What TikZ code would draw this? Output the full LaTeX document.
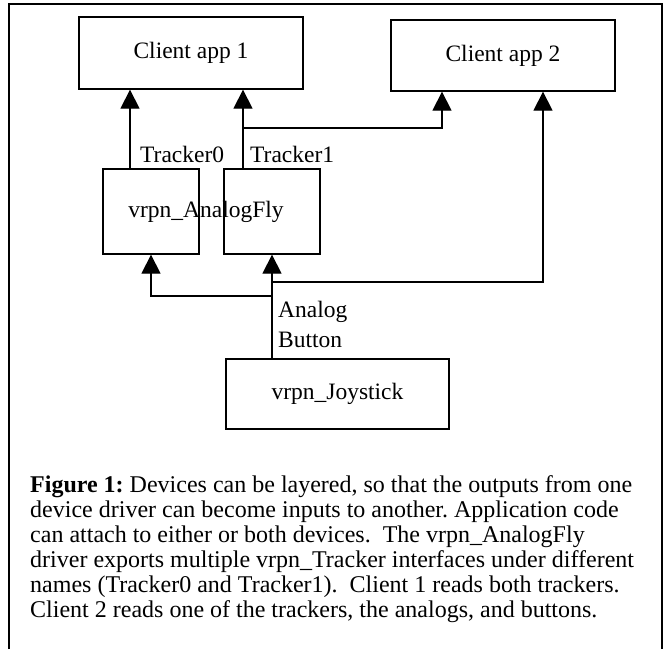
\documentclass[tikz,border=0pt]{standalone}
\usepackage{fontspec}
\setmainfont{Liberation Serif}
\usetikzlibrary{arrows.meta}
\frenchspacing
\begin{document}
\begin{tikzpicture}[x=1pt,y=-1pt,
box/.style={draw,line width=1.3pt,inner sep=0pt},
lbl/.style={font=\fontsize{23.5}{28}\selectfont,inner sep=0pt},
arr/.style={line width=1.3pt,-{Triangle[length=19pt,width=19pt]}}]
\useasboundingbox (0,0) rectangle (665,649);
\draw[line width=1.6pt] (9,649) -- (9,4) -- (662,4) -- (662,649);
\node[box,lbl,minimum width=224pt,minimum height=72pt] (app1) at (191,53) {Client app 1};
\node[box,lbl,minimum width=224pt,minimum height=71pt] (app2) at (503,55.5) {Client app 2};
\node[box,minimum width=96pt,minimum height=85pt] (trk0) at (151,211.5) {};
\node[box,minimum width=96pt,minimum height=85pt] (trk1) at (272,211.5) {};
\node[lbl] (fly) at (206,212) {vrpn\_AnalogFly};
\node[box,lbl,minimum width=223pt,minimum height=70pt] (joy) at (337.5,394) {vrpn\_Joystick};
\draw[arr] ([xshift=-21pt]trk0.north) coordinate (up0) -- (up0 |- app1.south);
\draw[arr] ([xshift=-29pt]trk1.north) coordinate (up1) -- (up1 |- app1.south);
\coordinate (br1) at (243,128);
\draw[arr] (br1) -| ([xshift=-61pt]app2.south);
\draw[arr] (trk1.south |- joy.north) -- (trk1.south);
\coordinate (br2) at (272,296);
\coordinate (br3) at (272,282);
\draw[arr] (br2) -| (trk0.south);
\draw[arr] (br3) -| ([xshift=40pt]app2.south);
\node[lbl,anchor=base west] (t0) at (140,162) {Tracker0};
\node[lbl,anchor=base west] (t1) at (250,162) {Tracker1};
\node[lbl,anchor=base west] (ana) at (278,317) {Analog};
\node[lbl,anchor=base west] (btn) at (278,347) {Button};
\foreach \t [count=\n] in {
{\textbf{Figure 1:} Devices can be layered, so that the outputs from one},
{device driver can become inputs to another. Application code},
{can attach to either or both devices.~ The vrpn\_AnalogFly},
{driver exports multiple vrpn\_Tracker interfaces under different},
{names (Tracker0 and Tracker1).~ Client 1 reads both trackers.},
{Client 2 reads one of the trackers, the analogs, and buttons.}
} {
\node[font=\fontsize{24}{25}\selectfont,inner sep=0pt,anchor=base west] (cap\n) at (30,{467+25*\n}) {\t};
}
\end{tikzpicture}
\end{document}
